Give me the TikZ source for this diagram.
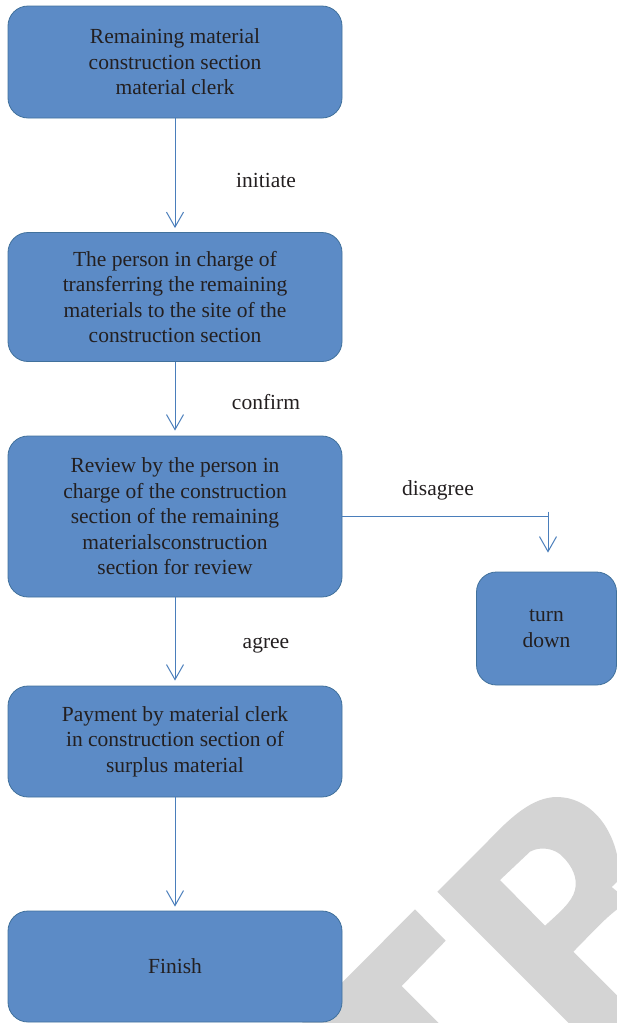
\documentclass[tikz,border=0pt]{standalone}
\usepackage{fontspec}
\setmainfont{Liberation Serif}
\usetikzlibrary{arrows.meta}
\definecolor{boxfill}{RGB}{92,139,198}
\definecolor{boxline}{RGB}{65,113,156}
\definecolor{linkblue}{RGB}{74,126,187}
\definecolor{ink}{RGB}{35,31,32}
\definecolor{wmgray}{RGB}{212,212,212}
\begin{document}
\begin{tikzpicture}[x=1pt,y=-1pt,
  stepbox/.style={draw=boxline, line width=0.8pt, fill=boxfill, rounded corners=20pt,
    text=ink, align=center, inner sep=0pt, font=\fontsize{21.5}{25.5}\selectfont},
  conn/.style={draw=linkblue, line width=1pt},
  arr/.style={conn, -{Straight Barb[length=15pt,width=17pt]}},
  lbl/.style={text=ink, inner sep=0pt, font=\fontsize{21.5}{25.5}\selectfont}]

\path[use as bounding box] (0,0) rectangle (617,1023);

% gray lettering in the lower right corner
\begin{scope}
  \clip (0,0) rectangle (617,1023);
  \fill[wmgray] (415,909.3) -- (445.7,940.7) -- (401.7,986) -- (445.7,1030) -- (295,1030) -- cycle;
  \fill[wmgray, even odd rule]
    (437.3,891.7) -- (488,841) .. controls (510,818) and (532,797) .. (557,797)
    .. controls (588,797) and (614,825) .. (619,866) -- (619,880) -- (611.7,887)
    -- (619,893) -- (619,908) .. controls (605,918) and (590,935) .. (573.3,951.7)
    -- (651.6,1030) -- (575.6,1030) -- cycle
    (500,880) -- (530,851.7) .. controls (540,846) and (555,848) .. (563,857)
    .. controls (572,866) and (578,878) .. (575,890)
    .. controls (572,902) and (560,912) .. (545,925.7) -- cycle;
\end{scope}

% process steps
\node[stepbox, minimum width=334pt, minimum height=112pt] (start) at (175,62)
  {Remaining material\\construction section\\material clerk};
\node[stepbox, minimum width=334pt, minimum height=129pt] (transfer) at (175,297)
  {The person in charge of\\transferring the remaining\\materials to the site of the\\construction section};
\node[stepbox, minimum width=334pt, minimum height=161pt] (review) at (175,516.5)
  {Review by the person in\\charge of the construction\\section of the remaining\\materialsconstruction\\section for review};
\node[stepbox, minimum width=334pt, minimum height=111pt] (pay) at (175,741.5)
  {Payment by material clerk\\in construction section of\\surplus material};
\node[stepbox, minimum width=334pt, minimum height=111pt] (finish) at (175,966.5)
  {Finish};
\node[stepbox, minimum width=140pt, minimum height=113pt] (reject) at (546.5,628.5)
  {turn\\down};

% connector labels
\node[lbl] (linit) at (266,180) {initiate};
\node[lbl] (lconf) at (266,402) {confirm};
\node[lbl] (lagree) at (266,645) {agree};
\node[lbl] (ldis) at (438,490) {disagree};

% connectors
\draw[arr, shorten >=4pt] (start.south) -- (transfer.north);
\draw[arr, shorten >=5pt] (transfer.south) -- (review.north);
\draw[arr, shorten >=5pt] (review.south) -- (pay.north);
\draw[arr, shorten >=4pt] (pay.south) -- (finish.north);

\coordinate (bend) at (548,516.5);
\draw[conn] (review.east |- bend) -- (bend);
\draw[arr, shorten >=19pt] ([yshift=5pt]bend) -- (bend |- reject.north);
\end{tikzpicture}
\end{document}
